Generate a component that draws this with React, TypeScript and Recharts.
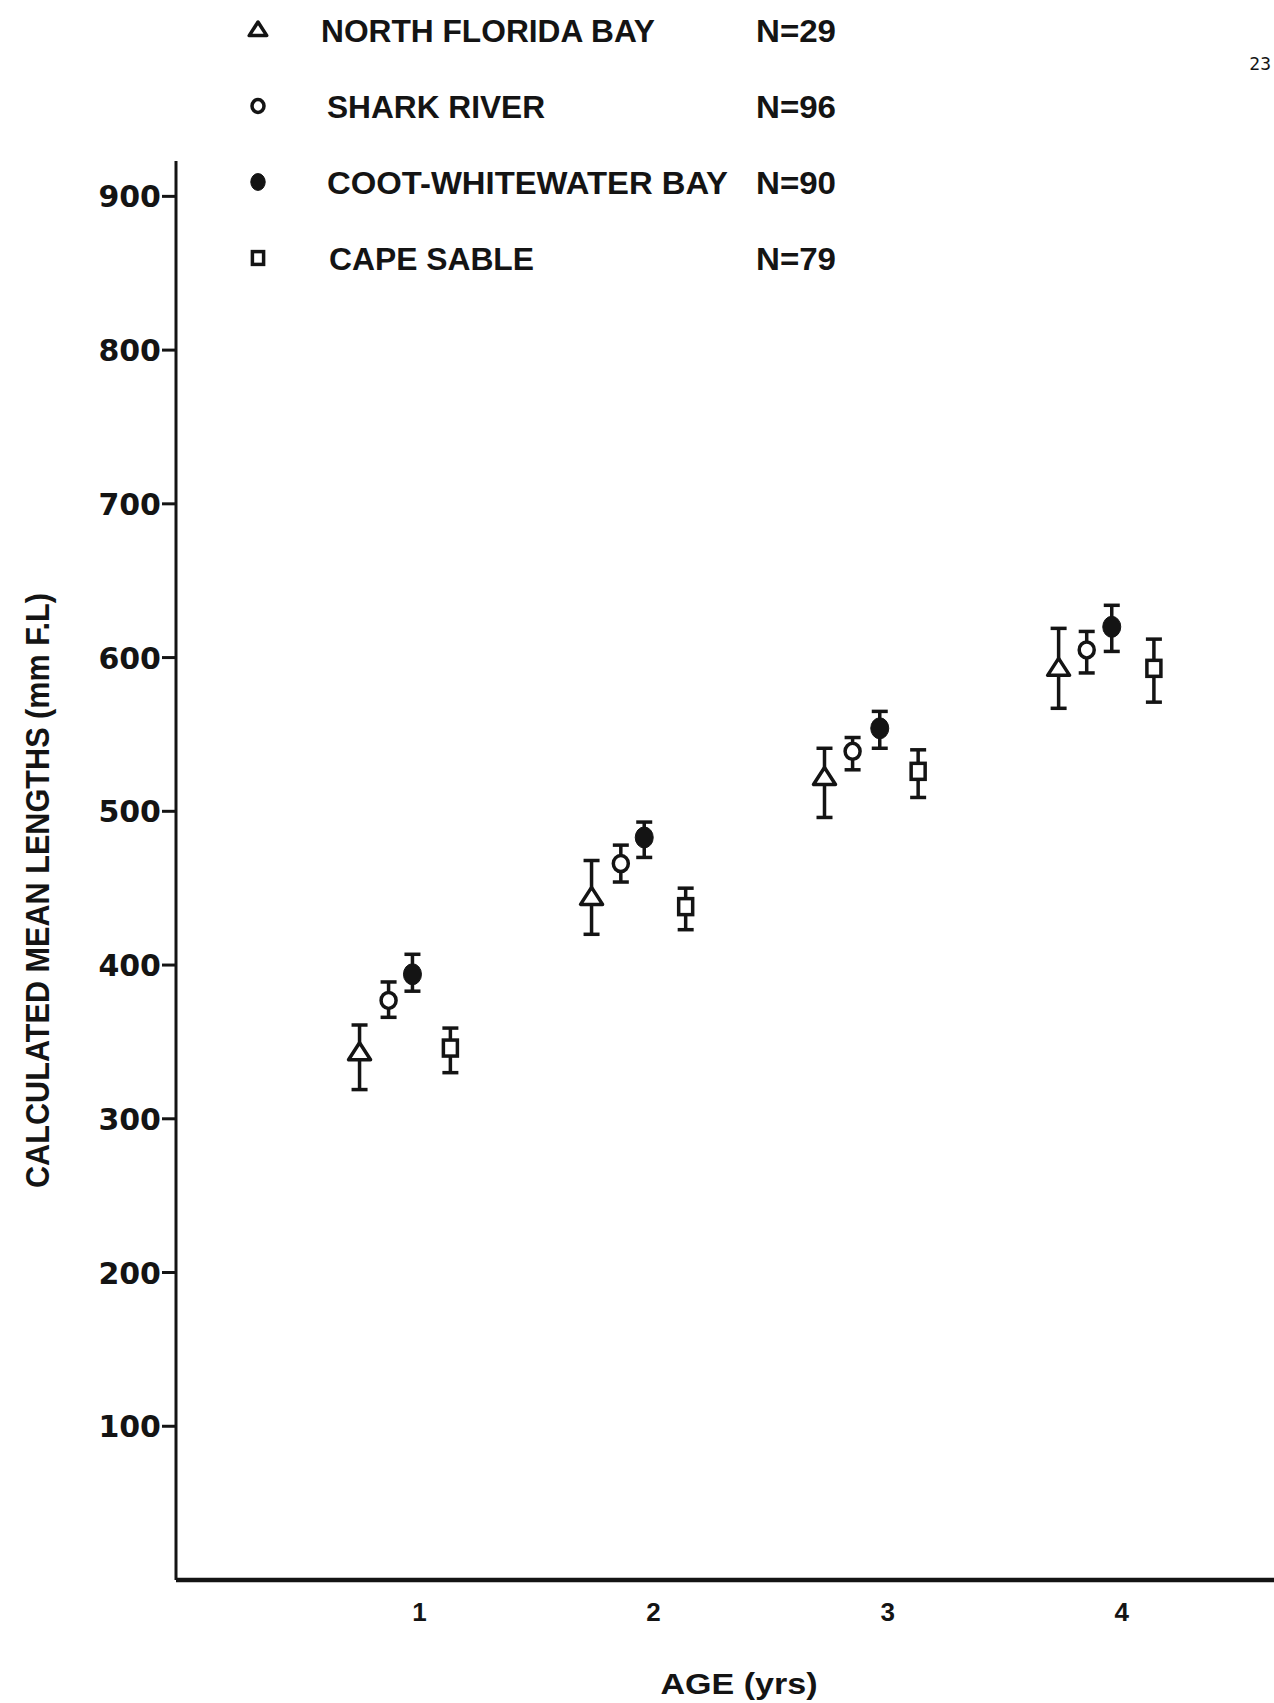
import React from 'react';
import { ScatterChart, Scatter, XAxis, YAxis, ErrorBar, Label } from 'recharts';

// values (mm fork length)
const ageTicks = [1, 2, 3, 4];
const lengthTicks = [100, 200, 300, 400, 500, 600, 700, 800, 900];

const northFloridaX = [0.744, 1.735, 2.73, 3.73];
const northFloridaMean = [343, 444, 522, 593];
const northFloridaLow = [319, 420, 496, 567];
const northFloridaHigh = [361, 468, 541, 619];

const sharkRiverX = [0.868, 1.86, 2.85, 3.85];
const sharkRiverMean = [377, 466, 539, 605];
const sharkRiverLow = [366, 454, 527, 590];
const sharkRiverHigh = [389, 478, 548, 617];

const cootX = [0.97, 1.96, 2.966, 3.957];
const cootMean = [394, 483, 554, 620];
const cootLow = [383, 470, 541, 604];
const cootHigh = [407, 493, 565, 634];

const capeSableX = [1.132, 2.137, 3.13, 4.137];
const capeSableMean = [346, 438, 526, 593];
const capeSableLow = [330, 423, 509, 571];
const capeSableHigh = [359, 450, 540, 612];

const seriesNames = ['NORTH FLORIDA BAY', 'SHARK RIVER', 'COOT-WHITEWATER BAY', 'CAPE SABLE'];
const sampleSizes = ['N=29', 'N=96', 'N=90', 'N=79'];

const INK = '#141414';

const toPoints = (xs: number[], mean: number[], low: number[], high: number[]) =>
  xs.map((x, i) => ({ age: x, len: mean[i], err: [mean[i] - low[i], high[i] - mean[i]] }));

const northFlorida = toPoints(northFloridaX, northFloridaMean, northFloridaLow, northFloridaHigh);
const sharkRiver = toPoints(sharkRiverX, sharkRiverMean, sharkRiverLow, sharkRiverHigh);
const coot = toPoints(cootX, cootMean, cootLow, cootHigh);
const capeSable = toPoints(capeSableX, capeSableMean, capeSableLow, capeSableHigh);

type Kind = 'triangle' | 'circle' | 'dot' | 'square';

const Marker = ({ kind, cx, cy, s = 1 }: { kind: Kind; cx: number; cy: number; s?: number }) => {
  if (kind === 'triangle') {
    return (
      <polygon
        points={`${cx},${cy - 10 * s} ${cx - 11 * s},${cy + 7 * s} ${cx + 11 * s},${cy + 7 * s}`}
        fill="#fff"
        stroke={INK}
        strokeWidth={3.5}
        strokeLinejoin="round"
      />
    );
  }
  if (kind === 'circle') {
    return <ellipse cx={cx} cy={cy} rx={7.5 * s} ry={8 * s} fill="#fff" stroke={INK} strokeWidth={3.5} />;
  }
  if (kind === 'dot') {
    return <ellipse cx={cx} cy={cy} rx={9 * s} ry={10.5 * s} fill={INK} stroke={INK} strokeWidth={1} />;
  }
  return <rect x={cx - 7 * s} y={cy - 8 * s} width={14 * s} height={16 * s} fill="#fff" stroke={INK} strokeWidth={3.5} />;
};

const shapeFor = (kind: Kind) => (props: any) => <Marker kind={kind} cx={props.cx} cy={props.cy} />;

const legendKinds: Kind[] = ['triangle', 'circle', 'dot', 'square'];
const legendRowsY = [30, 106, 182, 258];
const legendTextX = [321, 327, 327, 329];
const legendTextW = [334, 218, 401, 205];

const font = '"Liberation Sans", Arial, Helvetica, sans-serif';

const YTick = (props: any) => {
  const { x, y, payload } = props;
  return (
    <text x={x} y={y + 11} textAnchor="end" fontFamily='"DejaVu Sans", sans-serif' fontWeight={700} fontSize={30} fill={INK}>
      {payload.value}
    </text>
  );
};

const XTick = (props: any) => {
  const { x, y, payload } = props;
  return (
    <text x={x} y={y + 41} textAnchor="middle" fontFamily={font} fontWeight={700} fontSize={26} fill={INK}>
      {payload.value}
    </text>
  );
};

const YTitle = (props: any) => {
  const { viewBox } = props;
  const cx = viewBox.x - 79;
  const cy = viewBox.y + viewBox.height / 2 + 20;
  return (
    <text
      x={cx}
      y={cy}
      transform={`rotate(-90 ${cx} ${cy})`}
      textAnchor="middle"
      dominantBaseline="central"
      fontFamily={font}
      fontWeight={700}
      fontSize={33}
      textLength={595}
      lengthAdjust="spacingAndGlyphs"
      fill={INK}
    >
      CALCULATED MEAN LENGTHS (mm F.L)
    </text>
  );
};

const XTitle = (props: any) => {
  const { viewBox } = props;
  return (
    <text
      x={739}
      y={viewBox.y + 114}
      textAnchor="middle"
      fontFamily={font}
      fontWeight={700}
      fontSize={29}
      textLength={157}
      lengthAdjust="spacingAndGlyphs"
      fill={INK}
    >
      AGE (yrs)
    </text>
  );
};

const App: React.FC = () => {
  return (
    <div style={{ position: 'relative', width: 1274, height: 1703, background: '#fff', overflow: 'hidden' }}>
      <style>{`body{margin:0;overflow:hidden;background:#fff}`}</style>
      <ScatterChart width={1274} height={1703} margin={{ top: 161, right: 0, left: 116, bottom: 63 }}>
        <XAxis
          type="number"
          dataKey="age"
          domain={[-0.04, 4.65]}
          ticks={ageTicks}
          allowDataOverflow
          height={60}
          tickLine={false}
          tickSize={0}
          tickMargin={0}
          tick={<XTick />}
          axisLine={{ stroke: INK, strokeWidth: 4.5 }}
        >
          <Label content={<XTitle />} />
        </XAxis>
        <YAxis
          type="number"
          dataKey="len"
          domain={[0, 923]}
          ticks={lengthTicks}
          allowDataOverflow
          width={60}
          tickSize={14}
          tickMargin={1}
          tick={<YTick />}
          tickLine={{ stroke: INK, strokeWidth: 3 }}
          axisLine={{ stroke: INK, strokeWidth: 3 }}
        >
          <Label content={<YTitle />} />
        </YAxis>
        <Scatter name={seriesNames[0]} data={northFlorida} shape={shapeFor('triangle')} isAnimationActive={false}>
          <ErrorBar dataKey="err" direction="y" width={8} stroke={INK} strokeWidth={3.5} />
        </Scatter>
        <Scatter name={seriesNames[1]} data={sharkRiver} shape={shapeFor('circle')} isAnimationActive={false}>
          <ErrorBar dataKey="err" direction="y" width={8} stroke={INK} strokeWidth={3.5} />
        </Scatter>
        <Scatter name={seriesNames[2]} data={coot} shape={shapeFor('dot')} isAnimationActive={false}>
          <ErrorBar dataKey="err" direction="y" width={8} stroke={INK} strokeWidth={3.5} />
        </Scatter>
        <Scatter name={seriesNames[3]} data={capeSable} shape={shapeFor('square')} isAnimationActive={false}>
          <ErrorBar dataKey="err" direction="y" width={8} stroke={INK} strokeWidth={3.5} />
        </Scatter>
      </ScatterChart>

      {/* legend block at the top, plus the page number in the corner */}
      <svg width={1274} height={300} style={{ position: 'absolute', left: 0, top: 0, pointerEvents: 'none' }}>
        {seriesNames.map((name, i) => (
          <g key={name}>
            <Marker kind={legendKinds[i]} cx={258} cy={legendRowsY[i]} s={0.8} />
            <text
              x={legendTextX[i]}
              y={legendRowsY[i] + 12}
              fontFamily={font}
              fontWeight={700}
              fontSize={32}
              textLength={legendTextW[i]}
              lengthAdjust="spacingAndGlyphs"
              fill={INK}
            >
              {name}
            </text>
            <text
              x={756}
              y={legendRowsY[i] + 12}
              fontFamily={font}
              fontWeight={700}
              fontSize={32}
              textLength={80}
              lengthAdjust="spacingAndGlyphs"
              fill={INK}
            >
              {sampleSizes[i]}
            </text>
          </g>
        ))}
        <text x={1271} y={70} textAnchor="end" fontFamily='"DejaVu Sans Mono", monospace' fontSize={18} fill={INK}>
          23
        </text>
      </svg>
    </div>
  );
};

export default App;
